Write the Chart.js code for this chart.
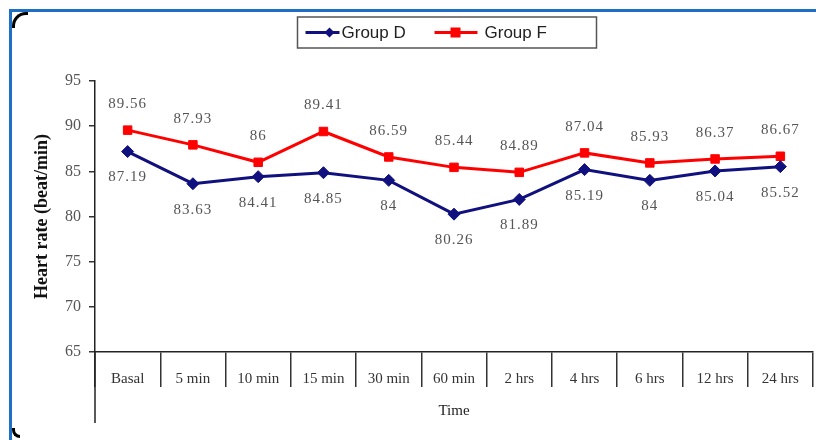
<!DOCTYPE html>
<html><head><meta charset="utf-8">
<script src="https://cdn.jsdelivr.net/npm/chart.js@4"></script>
<style>
html,body{margin:0;padding:0;width:816px;height:440px;overflow:hidden;background:#fff;}
#wrap{position:absolute;left:0;top:0;width:820px;height:440px;}
#frame{position:absolute;left:9px;top:9px;width:820px;height:440px;border-top:3px solid #1f6fc5;border-left:3px solid #1f6fc5;box-sizing:border-box;pointer-events:none}
#corner{position:absolute;left:12px;top:12px;width:16px;height:16px;border-top:3px solid #000;border-left:3px solid #000;border-top-left-radius:14px;box-sizing:border-box}
#corner2{position:absolute;left:12px;top:428px;width:8px;height:10px;border-bottom:3px solid #000;border-left:3px solid #000;border-bottom-left-radius:8px;box-sizing:border-box}
</style></head>
<body>
<div id="wrap"><canvas id="c" width="820" height="440"></canvas></div>
<div id="frame"></div><div id="corner"></div><div id="corner2"></div>
<script>
const categories = ['Basal','5 min','10 min','15 min','30 min','60 min','2 hrs','4 hrs','6 hrs','12 hrs','24 hrs'];
const groupD = [87.19,83.63,84.41,84.85,84,80.26,81.89,85.19,84,85.04,85.52];
const groupF = [89.56,87.93,86,89.41,86.59,85.44,84.89,87.04,85.93,86.37,86.67];
const seriesNames = ['Group D','Group F'];
const yTicks = [65,70,75,80,85,90,95];

const valueLabels = {id:'valueLabels', afterDatasetsDraw(chart){
  const ctx = chart.ctx; ctx.save();
  ctx.font = '15px "Liberation Serif"'; ctx.fillStyle = '#555';
  ctx.letterSpacing = '1px';
  ctx.textAlign = 'center'; ctx.textBaseline = 'middle';
  chart.data.datasets.forEach((ds,i)=>{
    const meta = chart.getDatasetMeta(i);
    meta.data.forEach((pt,j)=>{
      const dy = ds.labelPos === 'above' ? -26 : 26;
      ctx.fillText(String(ds.data[j]), pt.x, pt.y + dy);
    });
  });
  ctx.restore();
}};

const axisExtend = {id:'axisExtend', afterDraw(chart){
  const ctx = chart.ctx, ca = chart.chartArea;
  ctx.save(); ctx.strokeStyle = '#222'; ctx.lineWidth = 1.5;
  ctx.beginPath(); ctx.moveTo(ca.left, ca.bottom); ctx.lineTo(ca.left, ca.bottom + 71); ctx.stroke();
  ctx.restore();
}};

const boxLegend = {id:'boxLegend', afterDraw(chart){
  const ctx = chart.ctx, ca = chart.chartArea;
  const w = 299, h = 31, top = 17;
  const left = ca.left + ca.width/2 - 7 - w/2;
  ctx.save();
  ctx.strokeStyle = '#555'; ctx.lineWidth = 1.5; ctx.strokeRect(left, top, w, h);
  const items = [{off:8, len:34, mk:32, tx:44},{off:137, len:43, mk:158, tx:187}];
  const cy = top + h/2;
  chart.data.datasets.forEach((ds,i)=>{
    const it = items[i];
    ctx.strokeStyle = ds.borderColor; ctx.fillStyle = ds.borderColor; ctx.lineWidth = 3;
    ctx.beginPath(); ctx.moveTo(left+it.off, cy); ctx.lineTo(left+it.off+it.len, cy); ctx.stroke();
    const mx = left + it.mk;
    ctx.beginPath();
    if (ds.pointStyle === 'rectRot') {
      ctx.moveTo(mx, cy-5); ctx.lineTo(mx+5, cy); ctx.lineTo(mx, cy+5); ctx.lineTo(mx-5, cy); ctx.closePath();
    } else {
      ctx.rect(mx-5, cy-5, 10, 10);
    }
    ctx.fill();
    ctx.fillStyle = '#222'; ctx.font = '17px "Liberation Sans"';
    ctx.textAlign = 'left'; ctx.textBaseline = 'middle';
    ctx.fillText(ds.label, left + it.tx, cy + 1);
  });
  ctx.restore();
}};

new Chart(document.getElementById('c'), {
  type: 'line',
  data: {labels: categories, datasets: [
    {label: seriesNames[0], data: groupD, borderColor:'#10107f', backgroundColor:'#10107f', borderWidth:3,
     pointStyle:'rectRot', pointRadius:6, pointBorderWidth:1, tension:0, labelPos:'below'},
    {label: seriesNames[1], data: groupF, borderColor:'#ff0000', backgroundColor:'#ff0000', borderWidth:3,
     pointStyle:'rect', pointRadius:6, pointBorderWidth:1, tension:0, labelPos:'above'}
  ]},
  options: {
    responsive:false, animation:false,
    layout:{padding:{top:81, left:0, right:2, bottom:0}},
    plugins:{legend:{display:false}, tooltip:{enabled:false}},
    scales:{
      x:{offset:true,
         grid:{offset:true, drawOnChartArea:false, drawTicks:true, tickLength:35, color:'#333', lineWidth:1.5},
         border:{color:'#222', width:1.5},
         ticks:{padding:-17, color:'#333', font:{family:'Liberation Serif', size:15}, maxRotation:0, autoSkip:false},
         title:{display:true, text:'Time', color:'#222', font:{family:'Liberation Serif', size:15}, padding:{top:0, bottom:20}},
         afterFit(s){ s.height = 88; }},
      y:{min:65, max:95,
         afterBuildTicks(s){ s.ticks = yTicks.map(v=>({value:v})); },
         grid:{drawOnChartArea:false, tickLength:6, color:'#333', lineWidth:1.5},
         border:{color:'#222', width:1.5},
         ticks:{padding:8, color:'#555', font:{family:'Liberation Serif', size:16}},
         title:{display:true, text:'Heart rate (beat/min)', color:'#111', font:{family:'Liberation Serif', size:18, weight:'bold'}, padding:{top:32, bottom:0}},
         afterFit(s){ s.width = 95; }}
    }
  },
  plugins:[valueLabels, axisExtend, boxLegend]
});
</script>
</body></html>
